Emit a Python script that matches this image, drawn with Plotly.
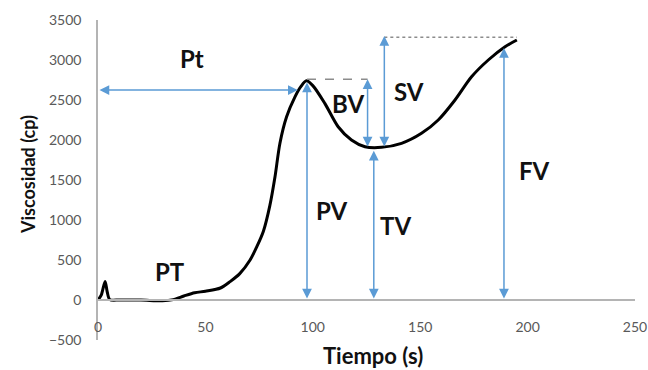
import plotly.graph_objects as go

# ---- data ----
time_s = [0, 1.5, 3.3, 4.3, 5.5, 10, 20, 30, 35, 40, 45, 50, 57, 61.5, 66, 70.8, 74, 77, 80,
          82.4, 84.7, 87.8, 91.7, 94.5, 97, 100, 105.6, 111.8, 118, 124.3, 132, 141.3, 150.6,
          158.4, 166.2, 173.9, 181.7, 189.5, 195]
viscosity_cp = [0, 60, 230, 100, 5, 0, 0, -10, 5, 50, 90, 110, 150, 230, 330, 500, 670, 860, 1180,
                1540, 1960, 2290, 2540, 2670, 2740, 2680, 2458, 2166, 2000, 1916, 1908, 1958, 2083,
                2250, 2500, 2790, 3000, 3166, 3250]

x_ticks = [0, 50, 100, 150, 200, 250]
y_ticks = [-500, 0, 500, 1000, 1500, 2000, 2500, 3000, 3500]

# characteristic points (time, viscosity)
pt_time, pt_level = 93, 2625          # pasting time arrow
pv_time, pv_value = 97.3, 2720        # peak viscosity
bv_time, bv_top, bv_bottom = 125.5, 2760, 1900
sv_time, sv_top, sv_bottom = 133.3, 3300, 1900
tv_time, tv_value = 128.4, 1865
fv_time, fv_value = 189, 3150
final_time, final_level = 195, 3285

labels = ["Pt", "PT", "PV", "TV", "FV", "BV", "SV"]
label_t = [43.8, 33.5, 109, 138.3, 203.4, 116.2, 144.8]
label_v = [3025, 362, 1125, 937, 1615, 2456, 2606]

FONT = "Lato, 'Open Sans', sans-serif"
BLUE = "#5b9bd5"

fig = go.Figure()
fig.add_trace(go.Scatter(x=time_s, y=viscosity_cp, mode="lines",
                         line=dict(color="black", width=3, shape="spline", smoothing=0.8),
                         showlegend=False, hoverinfo="skip"))

def darrow(x0, y0, x1, y1):
    fig.add_annotation(x=x1, y=y1, ax=x0, ay=y0, xref="x", yref="y", axref="x", ayref="y",
                       text="", showarrow=True, arrowside="end+start", arrowhead=2,
                       arrowsize=1.3, arrowwidth=1.5, arrowcolor=BLUE, standoff=0, startstandoff=0)

darrow(0, pt_level, pt_time, pt_level)
darrow(pv_time, 0, pv_time, pv_value)
darrow(bv_time, bv_bottom, bv_time, bv_top)
darrow(sv_time, sv_bottom, sv_time, sv_top)
darrow(tv_time, 0, tv_time, tv_value)
darrow(fv_time, 0, fv_time, fv_value)

fig.add_shape(type="line", x0=pv_time, x1=bv_time, y0=bv_top, y1=bv_top,
              line=dict(color="#8c8c8c", width=1.5, dash="dash"))
fig.add_shape(type="line", x0=sv_time, x1=final_time, y0=final_level, y1=final_level,
              line=dict(color="#8c8c8c", width=1.5, dash="dot"))

for lab, t, v in zip(labels, label_t, label_v):
    fig.add_annotation(x=t, y=v, xref="x", yref="y", text="<b>%s</b>" % lab, showarrow=False,
                       xanchor="center", yanchor="middle",
                       font=dict(family=FONT, size=24, color="#111111"))

fig.add_annotation(xref="paper", yref="paper", x=-0.13, y=0.516, text="<b>Viscosidad (cp)</b>",
                   textangle=-90, showarrow=False, xanchor="center", yanchor="middle",
                   font=dict(family=FONT, size=18, color="#111111"))
fig.add_annotation(xref="paper", yref="paper", x=0.512, y=-0.047, text="<b>Tiempo (s)</b>",
                   showarrow=False, xanchor="center", yanchor="middle",
                   font=dict(family=FONT, size=22, color="#111111"))

fig.update_layout(
    width=648, height=370,
    margin=dict(l=98, r=13, t=20, b=30, autoexpand=False),
    paper_bgcolor="white", plot_bgcolor="white",
    xaxis=dict(range=[0, 250], tickvals=x_ticks, showgrid=False, zeroline=False,
               showline=True, linecolor="#b4b4b4", linewidth=1.5, automargin=False,
               anchor="free", position=0.125, ticks="", ticklabelstandoff=14,
               tickfont=dict(family=FONT, size=14, color="#595959")),
    yaxis=dict(range=[-500, 3500], tickvals=y_ticks, showgrid=False, zeroline=False,
               showline=True, linecolor="#b4b4b4", linewidth=1.5, ticks="", automargin=False,
               ticklabelstandoff=12,
               tickfont=dict(family=FONT, size=14, color="#595959")),
)

# remove the default page margin so the 648x370 figure fills the window exactly
fig.write_html("out.html", config={"displayModeBar": False},
               post_script="document.body.style.margin='0px';document.body.style.overflow='hidden';")
